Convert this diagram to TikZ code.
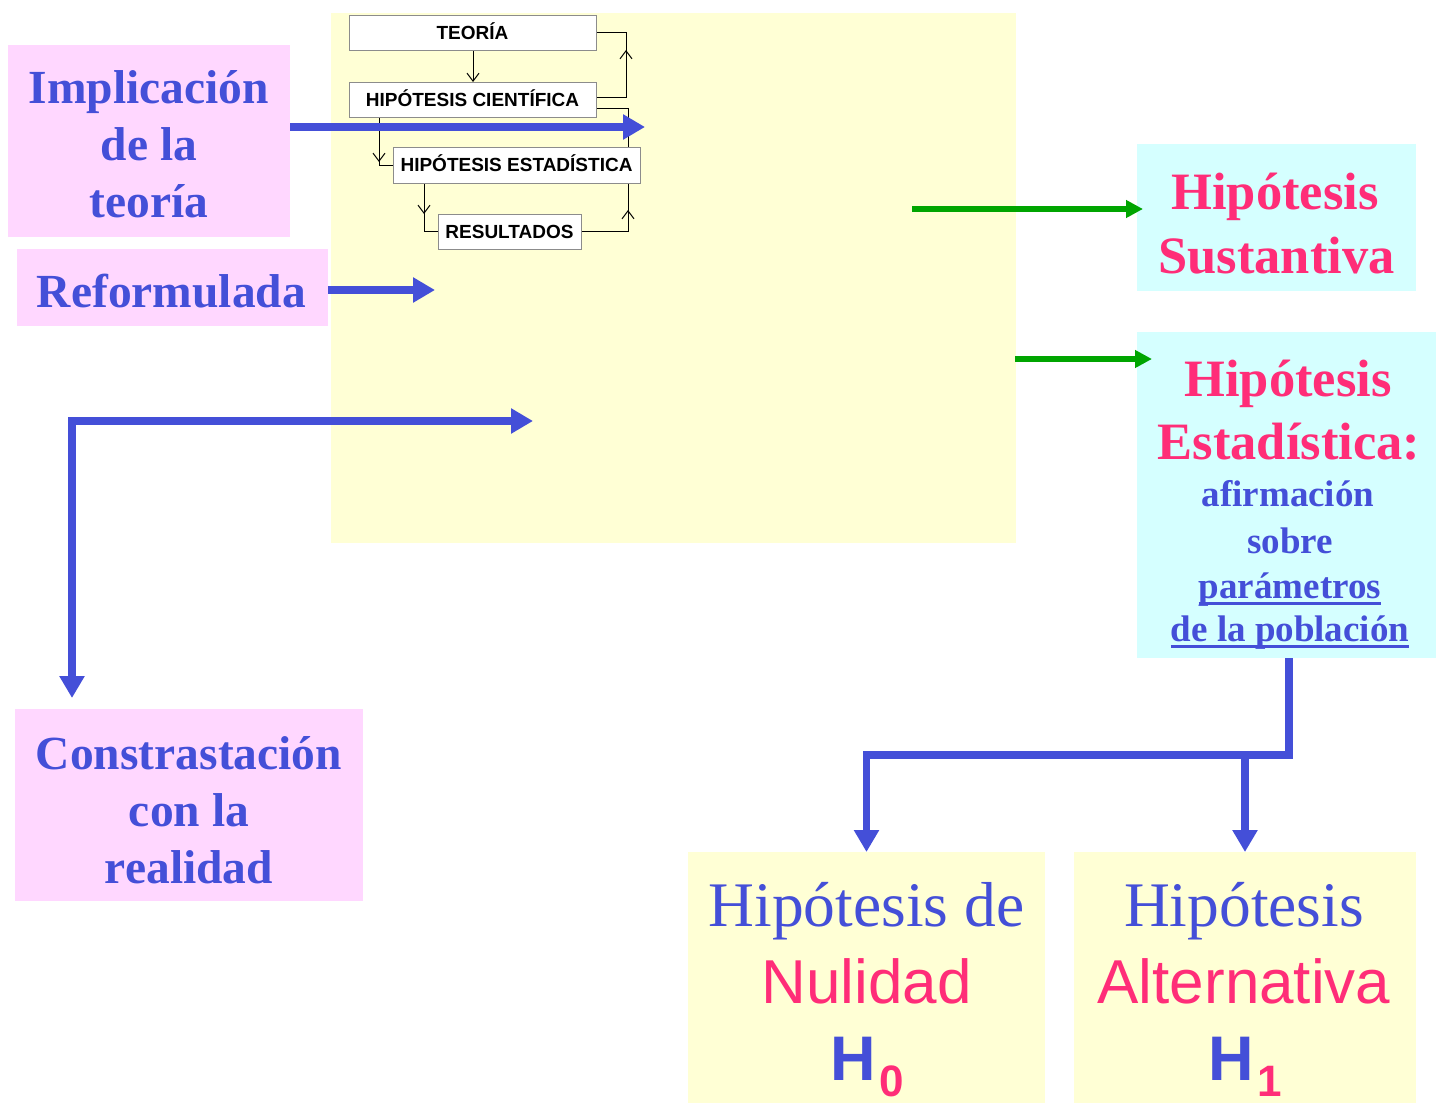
\documentclass[tikz,border=0pt]{standalone}
\usepackage{fontspec}
\setmainfont{Liberation Serif}
\newfontfamily\arialf{Liberation Sans}
\usetikzlibrary{arrows.meta,calc,decorations.markings}
\definecolor{tblue}{RGB}{68,79,216}
\definecolor{tpink}{RGB}{255,45,120}
\definecolor{pinkfill}{RGB}{255,215,255}
\definecolor{cyanfill}{RGB}{213,255,255}
\definecolor{yelfill}{RGB}{255,255,213}
\definecolor{tgreen}{RGB}{0,165,0}
\definecolor{boxgray}{RGB}{140,140,140}
\begin{document}
\begin{tikzpicture}[x=1pt,y=-1pt,
  area/.style={draw=none,rectangle,inner sep=0pt,outer sep=0pt},
  pinkbox/.style={area,fill=pinkfill},
  cyanbox/.style={area,fill=cyanfill},
  yelbox/.style={area,fill=yelfill},
  lbl/.style={anchor=base,inner sep=0pt,outer sep=0pt},
  bigb/.style={lbl,text=tblue,font=\fontsize{47.5}{57}\selectfont\bfseries},
  bigr/.style={lbl,text=tpink,font=\fontsize{52.5}{63}\selectfont\bfseries},
  midb/.style={lbl,text=tblue,font=\fontsize{37}{46}\selectfont\bfseries},
  serb/.style={lbl,text=tblue,font=\fontsize{63.5}{70}\selectfont},
  sanr/.style={lbl,text=tpink,font=\arialf\fontsize{62}{70}\selectfont},
  hsym/.style={lbl,text=tblue,font=\arialf\bfseries\fontsize{63}{70}\selectfont},
  flowbox/.style={draw=boxgray,line width=1pt,fill=white,rectangle,inner sep=0pt,
    minimum height=35pt,text height=13.6pt,text depth=0pt,
    font=\arialf\bfseries\fontsize{19}{19}\selectfont},
  thinc/.style={draw=black,line width=1pt},
  barb/.tip={Straight Barb[length=8pt,width=12pt,line width=1pt]},
  midarr/.style={postaction={decorate},decoration={markings,
    mark=at position #1 with {\arrow{barb}}}},
  bluearr/.style={draw=tblue,line width=7.5pt,line join=miter,-{Triangle[length=22pt,width=24pt]}},
  grarr/.style={draw=tgreen,line width=6pt,-{Triangle[length=17pt,width=17pt]}},
  uline/.style={draw=tblue,line width=3pt}
]
\useasboundingbox (0,0) rectangle (1436,1103);

% background area
\node[yelbox,minimum width=685pt,minimum height=530pt] (bg) at (673.5,278) {};

% flow chart connectors (drawn beneath the boxes)
\draw[thinc,-{barb}] (473,50) -- (473,82);
\draw[thinc,midarr=77pt] (596,97) -| (626,32.5) -- (596,32.5);
\draw[thinc,midarr=68.5pt] (581,231.5) -| (628,108) -- (596,108);
\draw[thinc,midarr=45pt] (379,117) |- (393,165);
\draw[thinc,midarr=31pt] (424,183) |- (438,231.5);

% flow chart boxes
\node[flowbox,minimum width=247pt] (teo) at (472.5,32.5) {TEORÍA};
\node[flowbox,minimum width=247pt] (hc) at (472.5,99.5) {HIPÓTESIS CIENTÍFICA};
\node[flowbox,minimum width=247pt,minimum height=36pt] (he) at (516.5,165) {HIPÓTESIS ESTADÍSTICA};
\node[flowbox,minimum width=143pt] (res) at (509.5,231.5) {RESULTADOS};

% coloured boxes
\node[pinkbox,minimum width=282pt,minimum height=192pt] (impl) at (149,141) {};
\node[pinkbox,minimum width=311pt,minimum height=77pt] (refo) at (172.5,287.5) {};
\node[pinkbox,minimum width=348pt,minimum height=192pt] (cons) at (189,805) {};
\node[cyanbox,minimum width=279pt,minimum height=147pt] (sust) at (1276.5,217.5) {};
\node[cyanbox,minimum width=299pt,minimum height=326pt] (est) at (1286.5,495) {};
\node[yelbox,minimum width=357pt,minimum height=251pt] (h0) at (866.5,977.5) {};
\node[yelbox,minimum width=342pt,minimum height=251pt] (h1) at (1245,977.5) {};

% texts
\node[bigb] (impl1) at (149,103) {Implicación};
\node[bigb] (impl2) at (149,160) {de la};
\node[bigb] (impl3) at (149,217) {teoría};
\node[bigb] (refo1) at (171.5,307) {Reformulada};
\node[bigb] (cons1) at (189,769) {Constrastación};
\node[bigb] (cons2) at (189,826) {con la};
\node[bigb] (cons3) at (189,883) {realidad};
\node[bigr] (sust1) at (1275,209) {Hipótesis};
\node[bigr] (sust2) at (1276.5,273) {Sustantiva};
\node[bigr] (est1) at (1288,396) {Hipótesis};
\node[bigr] (est2) at (1289,459) {Estadística:};
\node[midb] (est3) at (1288,506) {afirmación};
\node[midb] (est4) at (1290,553) {sobre};
\node[midb] (est5) at (1290,598) {parámetros};
\node[midb] (est6) at (1290,641) {de la población};
\draw[uline] ($(est5.base west)+(0,5)$) -- ($(est5.base east)+(0,5)$);
\draw[uline] ($(est6.base west)+(0,5)$) -- ($(est6.base east)+(0,5)$);
\node[serb] (h0a) at (866.5,926) {Hipótesis de};
\node[sanr] (h0b) at (866.5,1003) {Nulidad};
\node[hsym] (h0c) at (867,1080) {H\hspace{4pt}\raisebox{-16pt}{\textcolor{tpink}{\fontsize{44}{44}\selectfont 0}}};
\node[serb] (h1a) at (1244,926) {Hipótesis};
\node[sanr] (h1b) at (1244,1003) {Alternativa};
\node[hsym] (h1c) at (1245,1080) {H\hspace{4pt}\raisebox{-16pt}{\textcolor{tpink}{\fontsize{44}{44}\selectfont 1}}};

% blue arrows
\coordinate (a1) at (645,127);
\coordinate (a2) at (435,290);
\coordinate (a3) at (533,421);
\draw[bluearr] ($(impl.east)+(0,-14)$) -- (a1);
\draw[bluearr] ($(refo.east)+(0,2.5)$) -- (a2);
\draw[bluearr,{Triangle[length=22pt,width=24pt]}-{Triangle[length=22pt,width=24pt]}]
  (a3) -- (72,421) -- ($(cons.north west)+(57,-11)$);
\draw[bluearr] ($(est.south)+(2.5,0)$) |- ($(h0.north)+(0,-97)$) -- (h0.north);
\draw[bluearr] ($(h1.north)+(0,-101)$) -- (h1.north);

% green arrows
\coordinate (g1) at (912,209);
\draw[grarr] (g1) -- ($(sust.west)+(6,-8.5)$);
\draw[grarr] ($(bg.south east)+(-1,-184)$) -- ($(est.west)+(15,-136)$);
\end{tikzpicture}
\end{document}
